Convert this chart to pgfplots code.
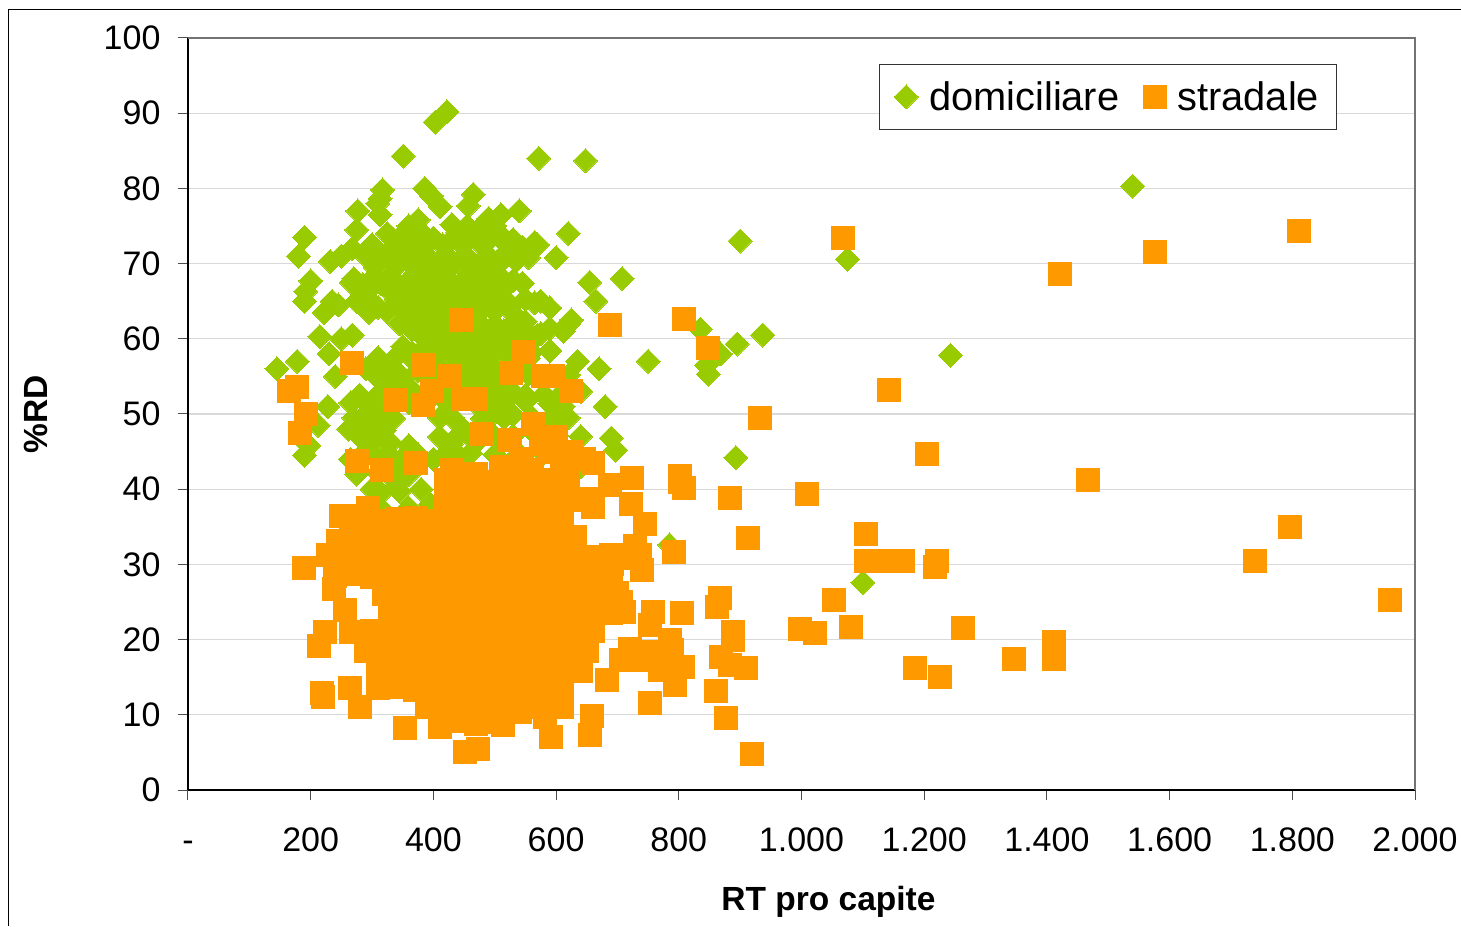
\documentclass[border=0pt]{standalone}
\usepackage{pgfplots}
\pgfplotsset{compat=1.18}
\usepackage{fontspec}
\setmainfont{Liberation Sans}
\definecolor{gr}{HTML}{99CC00}
\definecolor{og}{HTML}{FF9900}
\begin{document}
\begin{tikzpicture}
\useasboundingbox (-188pt,-136pt) rectangle (1273pt,790pt);
\draw[black,line width=1pt] (-179pt,-136pt) -- (-179pt,780pt) -- (1273pt,780pt);
\begin{axis}[
  at={(0pt,0pt)},anchor=south west,
  scale only axis,width=1227pt,height=752pt,
  xmin=0,xmax=2000,ymin=0,ymax=100,
  xtick={0,200,400,600,800,1000,1200,1400,1600,1800,2000},
  xticklabels={-,200,400,600,800,1.000,1.200,1.400,1.600,1.800,2.000},
  ytick={0,10,...,100},
  /pgf/number format/assume math mode=true,
  tick align=outside,tick pos=left,
  major tick length=10pt,
  tick style={color=black!70,line width=1pt},
  ymajorgrids,
  grid style={color=black!15,line width=1.2pt},
  axis on top=false,
  axis line style={line width=1.6pt},
  axis x line*=bottom, axis y line*=left,
  every tick label/.append style={font=\fontsize{34}{38}\selectfont},
  xticklabel style={yshift=-23pt,text height=25pt,text depth=0pt},
  yticklabel style={xshift=-14pt},
  xlabel={\fontsize{33.5}{38}\selectfont\bfseries RT pro capite},
  ylabel={\fontsize{33.5}{38}\selectfont\bfseries \%RD},
  xlabel style={at={(axis description cs:0.522,0)},anchor=north,yshift=-93pt},
  ylabel style={at={(axis description cs:0,0.5)},anchor=south,xshift=0pt,yshift=137pt},
  legend cell align=left,
  legend columns=2,
  legend style={at={(0.563,0.965)},anchor=north west,draw=black!80,line width=0.8pt,
    font=\fontsize{39.8}{44}\selectfont,inner xsep=15pt,inner ysep=15pt,
    /tikz/every odd column/.append style={column sep=9pt},
    /tikz/every even column/.append style={column sep=22pt}},
  clip=false,
]
\addplot[only marks,mark=diamond*,mark size=12pt,mark options={fill=gr,draw=gr,line width=0pt,solid,xscale=1.333}] table[row sep=\\]{
x y\\
145 56\\ 178 57\\ 180 71\\ 190 73.5\\ 192 66.3\\ 190 65\\ 200 67.7\\ 215 60.3\\ 222 63.5\\ 235 65\\ 230 58\\ 240 55\\ 228 51\\ 212 48.5\\ 190 44.5\\ 197 45.8\\ 245 64.5\\ 266 67.5\\ 268 60.5\\ 250 60\\ 232 70.3\\ 250 71\\ 268 72\\ 275 74.5\\ 277 77\\ 309 78\\ 317 79.8\\ 313 78.6\\ 313 76.5\\
386 80\\ 397 79\\ 411 77.6\\ 465 79.2\\ 457 77.7\\ 351 84.3\\ 422 90.2\\ 403 88.8\\ 375 75.8\\ 490 76\\ 510 76.5\\ 540 77\\ 500 75\\
620 74\\ 655 67.5\\ 665 65\\ 620 62\\ 625 62.5\\ 635 57\\ 612 61\\ 640 53\\ 612 51\\ 680 51\\ 610 49.5\\ 670 56\\ 750 57\\ 708 68\\ 690 46.8\\ 697 45.2\\ 640 43\\ 572 84\\ 648 83.7\\ 555 70.8\\ 570 72.5\\ 575 65\\ 570 60.5\\ 895 59.3\\ 937 60.5\\ 835 61.3\\ 845 56.5\\ 848 55.3\\ 868 58\\ 893 44.2\\ 900 73\\ 1075 70.6\\ 1243 57.8\\ 1540 80.3\\ 1100 27.6\\ 785 32.6\\
325 74\\ 355 74.3\\ 385 73.8\\ 440 74.2\\ 470 74\\ 505 74.2\\
300 72.5\\ 345 72.6\\ 375 72.3\\ 415 72.5\\ 445 72.7\\ 480 72.4\\ 520 72.5\\ 545 72.2\\ 565 72.8\\
290 71\\ 325 71.2\\ 355 70.8\\ 390 71\\ 420 71.2\\ 455 70.9\\ 490 71\\ 515 71.2\\ 600 70.8\\
305 69.5\\ 340 69.7\\ 370 69.3\\ 400 69.5\\ 430 69.7\\ 465 69.4\\ 500 69.5\\
270 68\\ 300 68\\ 330 68.2\\ 360 67.8\\ 390 68\\ 420 68.2\\ 450 67.9\\ 480 68\\ 510 68.2\\ 530 67.8\\
295 66.5\\ 325 66.7\\ 355 66.3\\ 385 66.5\\ 415 66.7\\ 445 66.4\\ 475 66.5\\ 505 66.7\\
275 65\\ 300 64.8\\ 340 65.2\\ 370 65\\ 400 65.1\\ 430 64.9\\ 460 65\\ 490 65.2\\ 520 65\\ 550 65.3\\ 565 64.8\\
295 63.5\\ 325 63.6\\ 355 63.3\\ 385 63.5\\ 415 63.7\\ 445 63.4\\ 475 63.5\\ 500 63.7\\ 530 63.4\\
345 62\\ 375 62.2\\ 405 61.9\\ 435 62\\ 465 62.2\\ 500 61.9\\ 530 62\\ 550 62.3\\
380 60.5\\ 410 60.7\\ 440 60.4\\ 470 60.5\\ 500 60.7\\ 530 60.4\\ 560 60.5\\ 575 60.7\\
350 59\\ 390 59.2\\ 420 58.9\\ 450 59\\ 480 59.2\\ 510 58.9\\ 545 59\\
310 57.5\\ 340 57.7\\ 365 57.4\\ 400 57.5\\ 430 57.7\\ 460 57.4\\ 490 57.5\\ 520 57.7\\ 555 57.4\\
290 56\\ 320 56.2\\ 375 55.8\\ 410 56\\ 440 56.2\\ 470 55.9\\ 500 56\\ 540 56.2\\
325 54.5\\ 350 54.7\\ 400 54.4\\ 455 54.5\\ 490 54.7\\ 520 54.4\\
340 53\\ 365 53.2\\ 430 52.9\\ 470 53\\ 505 53.2\\ 530 52.9\\
265 51.5\\ 300 51.6\\ 330 51.3\\ 360 51.5\\ 420 51.7\\ 470 51.4\\ 510 51.5\\ 550 51.7\\ 590 51.4\\
290 50\\ 320 50.2\\ 500 50.2\\ 530 49.9\\ 600 50\\
262 48\\ 290 48.2\\ 320 47.8\\ 450 47.9\\
300 46\\ 330 46.2\\ 360 45.8\\ 430 46\\ 470 46.2\\
265 44\\ 305 44.2\\ 345 43.8\\ 400 44\\ 445 44.2\\
275 42\\ 310 42.2\\ 330 41.8\\ 360 42\\ 430 42.2\\
315 39.5\\ 345 39.7\\
335 73.2\\ 370 73.1\\ 400 73.4\\ 430 73.2\\ 460 73.3\\ 490 73.1\\ 530 73.2\\
360 75\\ 430 75.2\\ 455 75\\ 480 75.1\\
310 70.2\\ 345 70.3\\ 380 70.1\\ 410 70.2\\ 440 70.3\\ 475 70.1\\ 510 70.2\\ 535 70.4\\
285 67.2\\ 315 67.3\\ 345 67.1\\ 375 67.2\\ 405 67.3\\ 435 67.1\\ 465 67.2\\ 495 67.3\\ 520 67.1\\ 545 67.4\\
310 64.2\\ 345 64.3\\ 375 64.1\\ 405 64.2\\ 435 64.3\\ 465 64.1\\ 495 64.2\\ 525 64.3\\ 590 64.1\\
365 61.2\\ 395 61.3\\ 425 61.1\\ 455 61.2\\ 485 61.3\\ 515 61.1\\ 545 61.2\\ 590 61.4\\
365 58.2\\ 405 58.3\\ 435 58.1\\ 465 58.2\\ 495 58.3\\ 525 58.1\\ 560 58.2\\ 590 58.4\\
305 55.2\\ 345 55.3\\ 390 55.1\\ 425 55.2\\ 455 55.3\\ 480 55.1\\ 510 55.2\\ 555 55.3\\ 590 55.1\\ 620 55.2\\
280 52.5\\ 310 52.6\\ 350 52.4\\ 400 52.5\\ 450 52.6\\ 490 52.4\\ 550 52.5\\ 580 52.6\\ 605 52.4\\
270 49.5\\ 305 49.6\\ 335 49.4\\ 410 49.5\\ 430 49.6\\ 480 49.4\\ 515 49.5\\ 560 49.6\\ 590 49.4\\ 620 49.5\\
280 47\\ 310 47.1\\ 410 47\\ 440 47.1\\ 500 47\\ 530 47.1\\ 570 47\\ 600 47.1\\ 640 47\\
285 44.7\\ 325 44.8\\ 375 44.6\\ 420 44.7\\ 460 44.8\\ 500 44.6\\ 540 44.7\\ 580 44.8\\ 620 44.6\\
300 40\\ 340 40.5\\ 380 40\\ 395 38\\ 360 37.5\\ 320 37\\
};
\addlegendentry{domiciliare}
\addplot[only marks,mark=square*,mark size=11.5pt,mark options={fill=og,draw=og,line width=0pt,solid}] table[row sep=\\]{
x y\\
1960 25.3\\ 1811 74.4\\ 1797 35\\ 1739 30.4\\ 1576 71.6\\ 1421 68.6\\ 1467 41.2\\ 1411 19.7\\ 1411 17.4\\ 1346 17.4\\ 1263 21.6\\ 1226 15\\ 1185 16.2\\ 1221 30.4\\ 1218 29.7\\ 1204 44.7\\ 1143 53.2\\ 1166 30.4\\ 1136 30.4\\ 1105 30.5\\ 1105 34\\ 1067 73.4\\ 1009 39.4\\ 1053 25.3\\ 1081 21.7\\ 1022 20.9\\ 997 21.4\\ 933 49.5\\ 913 33.5\\ 884 38.8\\ 919 4.8\\ 909 16.2\\ 888 21\\ 888 20\\ 877 9.6\\ 860 13.2\\ 884 16.6\\ 869 17.7\\ 867 25.5\\ 862 24.3\\ 848 58.8\\ 808 62.6\\ 802 41.8\\ 802 41\\ 808 40.2\\ 792 31.6\\ 805 23.5\\ 688 61.8\\ 445 62.5\\ 267 56.8\\ 177 53.6\\ 164 53\\ 192 50\\ 183 47.5\\ 275 43.8\\ 316 42.5\\ 189 29.5\\
337 51.8\\ 385 56.5\\ 383 51.2\\ 398 53\\ 427 55\\ 469 52\\ 450 52\\ 479 47.3\\ 525 46.5\\ 526 55.5\\ 548 58.2\\ 579 55\\ 595 55\\ 624 53\\ 562 48.7\\ 372 43.5\\
575 46\\ 600 47\\ 590 45\\ 625 45\\ 645 44\\ 660 43.5\\ 610 43\\ 545 44\\ 560 42.5\\ 510 43\\ 470 42\\ 430 42.5\\
250 36.5\\ 270 36.5\\ 294 37.5\\ 228 31.2\\ 238 26.7\\ 256 24\\ 224 21\\ 214 19.2\\ 218 12.9\\ 220 12.4\\ 264 13.5\\ 280 11\\ 354 8.2\\
452 5\\ 473 5.5\\ 592 7\\ 655 7.3\\ 658 9.8\\ 582 9.7\\ 610 11\\ 513 8.6\\ 411 8.4\\ 541 10.4\\
683 14.6\\ 753 11.6\\ 794 14\\ 807 16.4\\ 786 20\\ 789 18.6\\ 758 23.7\\ 753 22\\ 705 25\\ 740 29.3\\ 737 31.2\\ 729 32.5\\ 745 35.4\\ 722 38\\ 724 41.5\\ 688 40.5\\ 660 37.6\\ 691 30\\ 705 17.3\\ 737 17.3\\ 769 16\\
420 41.2\\ 450 40.8\\ 480 41\\ 510 41.2\\ 540 40.8\\ 570 41\\ 600 41.2\\ 620 40.8\\
420 38.3\\ 450 38.5\\ 480 38.7\\ 510 38.3\\ 540 38.5\\ 570 38.7\\ 600 38.3\\ 630 38.5\\ 650 38.7\\
265 36\\ 280 36.2\\ 310 35.8\\ 340 36\\ 370 36.2\\ 400 35.8\\ 430 36\\ 460 36.2\\ 490 35.8\\ 520 36\\ 550 36.2\\ 580 35.8\\ 610 36\\
245 33.1\\ 270 33.7\\ 300 33.3\\ 330 33.5\\ 360 33.7\\ 390 33.3\\ 420 33.5\\ 450 33.7\\ 480 33.3\\ 510 33.5\\ 540 33.7\\ 570 33.3\\ 600 33.5\\ 630 33.7\\
240 31.2\\ 270 30.8\\ 300 31\\ 330 31.2\\ 360 30.8\\ 390 31\\ 420 31.2\\ 450 30.8\\ 480 31\\ 510 31.2\\ 540 30.8\\ 570 31\\ 600 31.2\\ 630 30.8\\ 660 31\\ 690 31.2\\ 720 30.8\\
240 28.5\\ 270 28.7\\ 300 28.3\\ 330 28.5\\ 360 28.7\\ 390 28.3\\ 420 28.5\\ 450 28.7\\ 480 28.3\\ 510 28.5\\ 540 28.7\\ 570 28.3\\ 600 28.5\\ 630 28.7\\ 660 28.3\\ 690 28.5\\
320 26\\ 350 26.2\\ 380 25.8\\ 410 26\\ 440 26.2\\ 470 25.8\\ 500 26\\ 530 26.2\\ 560 25.8\\ 590 26\\ 620 26.2\\ 650 25.8\\ 680 26\\ 700 26.2\\
330 23.5\\ 360 23.7\\ 390 23.3\\ 420 23.5\\ 450 23.7\\ 480 23.3\\ 510 23.5\\ 540 23.7\\ 570 23.3\\ 600 23.5\\ 630 23.7\\ 660 23.3\\ 690 23.5\\ 710 23.7\\
265 21\\ 300 21.2\\ 330 20.8\\ 360 21\\ 390 21.2\\ 420 20.8\\ 450 21\\ 480 21.2\\ 510 20.8\\ 540 21\\ 570 21.2\\ 600 20.8\\ 630 21\\ 660 21.2\\
290 18.5\\ 320 18.7\\ 350 18.3\\ 380 18.5\\ 410 18.7\\ 440 18.3\\ 470 18.5\\ 500 18.7\\ 530 18.3\\ 560 18.5\\ 590 18.7\\ 620 18.3\\ 650 18.5\\ 720 18.7\\ 750 18.3\\
310 16\\ 340 16.2\\ 370 15.8\\ 400 16\\ 430 16.2\\ 460 15.8\\ 490 16\\ 520 16.2\\ 550 15.8\\ 580 16\\ 610 16.2\\ 640 15.8\\
310 13.5\\ 340 13.7\\ 370 13.3\\ 400 13.5\\ 430 13.7\\ 460 13.3\\ 490 13.5\\ 520 13.7\\ 550 13.3\\ 580 13.5\\ 610 13.7\\
390 11\\ 420 11.2\\ 450 10.8\\ 480 11\\ 510 11.2\\ 540 10.8\\ 570 11\\
410 9\\ 440 9.2\\ 470 8.8\\ 500 9\\
};
\addlegendentry{stradale}
\end{axis}
\draw[black!55,line width=1.6pt] (0pt,752pt) -- (1227pt,752pt) -- (1227pt,0pt);
\end{tikzpicture}
\end{document}
